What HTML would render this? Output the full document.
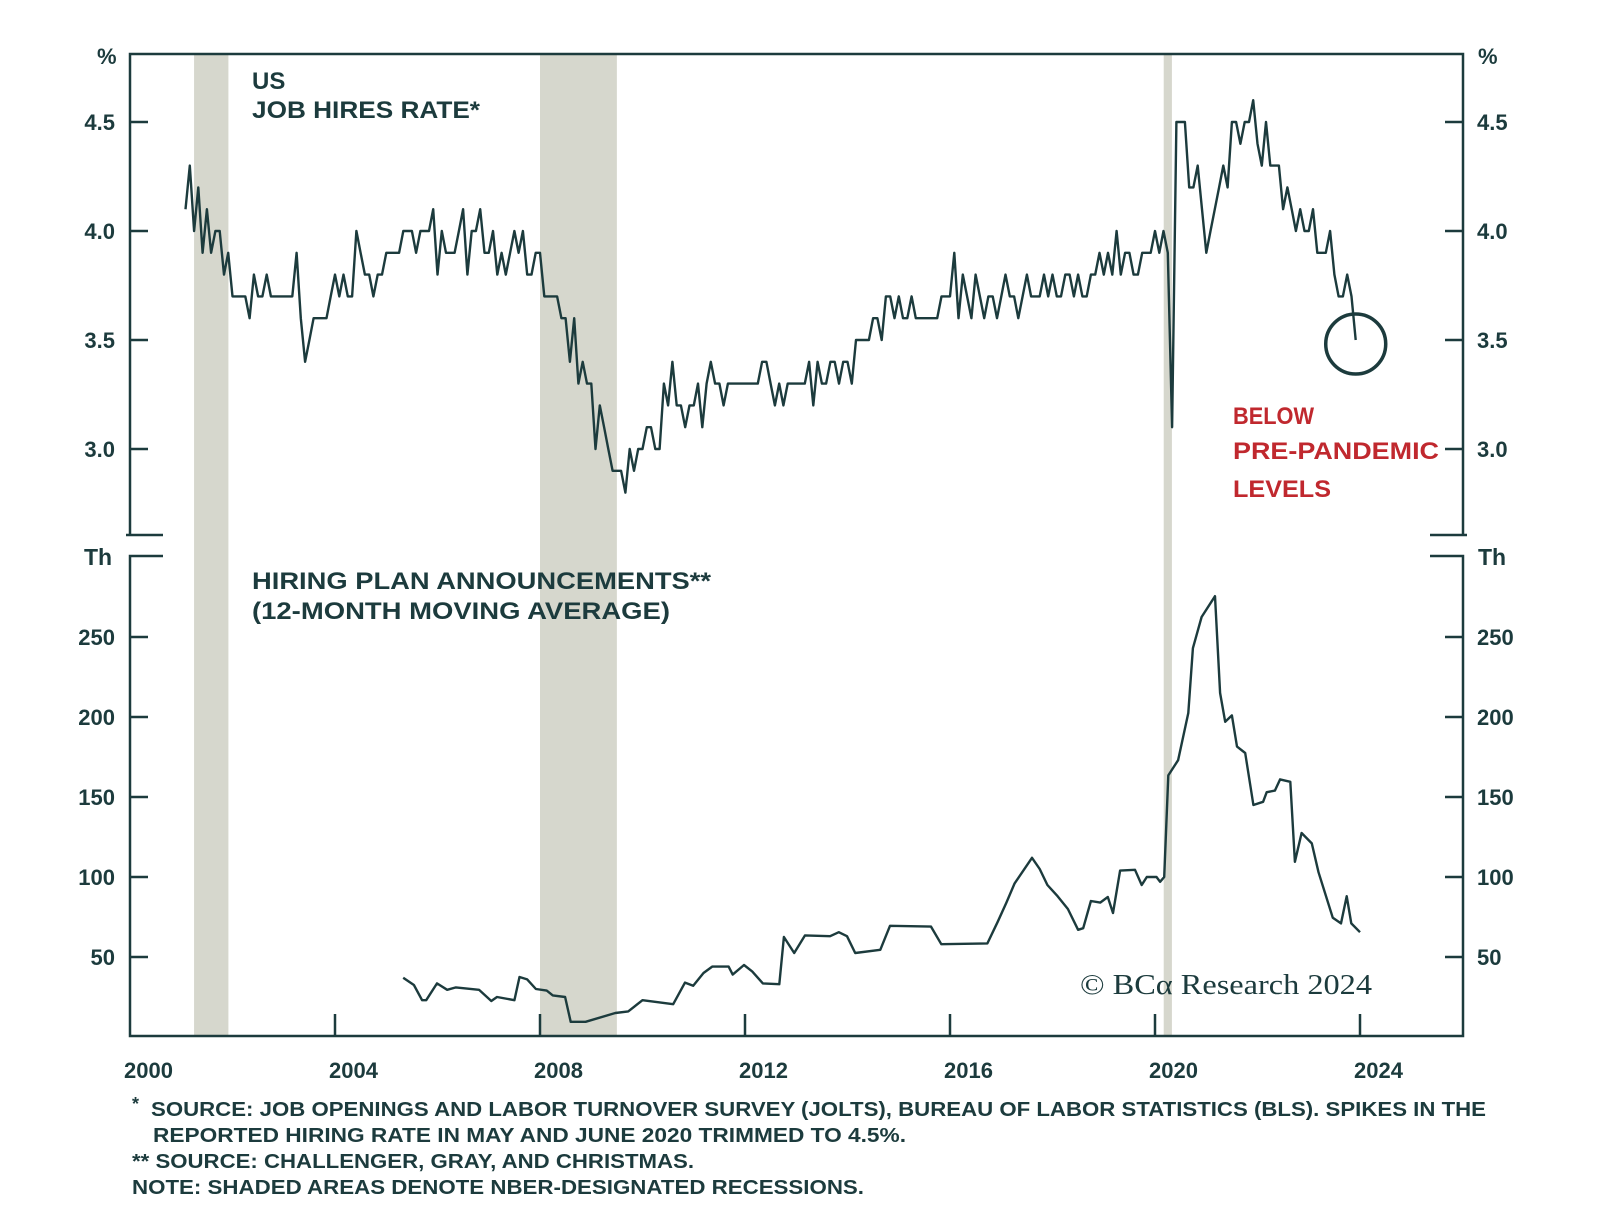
<!DOCTYPE html>
<html><head><meta charset="utf-8"><style>
html,body{margin:0;padding:0;background:#fff}
svg{display:block}
text{font-family:"Liberation Sans",sans-serif;fill:#1c3b3d;font-weight:700}
</style></head><body>
<svg id="chart" width="1600" height="1228" viewBox="0 0 1600 1228" xmlns="http://www.w3.org/2000/svg"></svg>
<script>
// ---- data ----
const hiresStartYear = 2001;
const hiresRate = [
4.1,4.3,4.0,4.2,3.9,4.1,3.9,4.0,4.0,3.8,3.9,3.7,
3.7,3.7,3.7,3.6,3.8,3.7,3.7,3.8,3.7,3.7,3.7,3.7,
3.7,3.7,3.9,3.6,3.4,3.5,3.6,3.6,3.6,3.6,3.7,3.8,
3.7,3.8,3.7,3.7,4.0,3.9,3.8,3.8,3.7,3.8,3.8,3.9,
3.9,3.9,3.9,4.0,4.0,4.0,3.9,4.0,4.0,4.0,4.1,3.8,
4.0,3.9,3.9,3.9,4.0,4.1,3.8,4.0,4.0,4.1,3.9,3.9,
4.0,3.8,3.9,3.8,3.9,4.0,3.9,4.0,3.8,3.8,3.9,3.9,
3.7,3.7,3.7,3.7,3.6,3.6,3.4,3.6,3.3,3.4,3.3,3.3,
3.0,3.2,3.1,3.0,2.9,2.9,2.9,2.8,3.0,2.9,3.0,3.0,
3.1,3.1,3.0,3.0,3.3,3.2,3.4,3.2,3.2,3.1,3.2,3.2,
3.3,3.1,3.3,3.4,3.3,3.3,3.2,3.3,3.3,3.3,3.3,3.3,
3.3,3.3,3.3,3.4,3.4,3.3,3.2,3.3,3.2,3.3,3.3,3.3,
3.3,3.3,3.4,3.2,3.4,3.3,3.3,3.4,3.4,3.3,3.4,3.4,
3.3,3.5,3.5,3.5,3.5,3.6,3.6,3.5,3.7,3.7,3.6,3.7,
3.6,3.6,3.7,3.6,3.6,3.6,3.6,3.6,3.6,3.7,3.7,3.7,
3.9,3.6,3.8,3.7,3.6,3.8,3.7,3.6,3.7,3.7,3.6,3.7,
3.8,3.7,3.7,3.6,3.7,3.8,3.7,3.7,3.7,3.8,3.7,3.8,
3.7,3.7,3.8,3.8,3.7,3.8,3.7,3.7,3.8,3.8,3.9,3.8,
3.9,3.8,4.0,3.8,3.9,3.9,3.8,3.8,3.9,3.9,3.9,4.0,
3.9,4.0,3.9,3.1,4.5,4.5,4.5,4.2,4.2,4.3,4.1,3.9,
4.0,4.1,4.2,4.3,4.2,4.5,4.5,4.4,4.5,4.5,4.6,4.4,
4.3,4.5,4.3,4.3,4.3,4.1,4.2,4.1,4.0,4.1,4.0,4.0,
4.1,3.9,3.9,3.9,4.0,3.8,3.7,3.7,3.8,3.7,3.5];
const plansYears = [2005.33,2005.54,2005.7,2005.78,2005.99,2006.19,2006.36,2006.81,2007.05,2007.16,2007.5,2007.6,2007.75,2007.92,2008.13,2008.25,2008.49,2008.6,2008.89,2009.47,2009.72,2010.0,2010.6,2010.83,2010.99,2011.19,2011.36,2011.68,2011.76,2011.98,2012.14,2012.35,2012.67,2012.76,2012.96,2013.17,2013.66,2013.83,2013.99,2014.15,2014.64,2014.83,2015.63,2015.83,2016.73,2016.93,2017.1,2017.26,2017.6,2017.75,2017.9,2018.1,2018.3,2018.5,2018.6,2018.75,2018.93,2019.08,2019.18,2019.32,2019.61,2019.74,2019.84,2020.03,2020.1,2020.18,2020.26,2020.45,2020.65,2020.74,2020.91,2021.17,2021.27,2021.37,2021.5,2021.6,2021.76,2021.92,2022.11,2022.18,2022.34,2022.44,2022.64,2022.73,2022.86,2023.06,2023.19,2023.47,2023.63,2023.74,2023.83,2024.0];
const plansValues = [37,32.5,23,23,33.5,29.5,31,29.5,22.5,25,23,37.5,36,30,29,26,25,9.5,9.5,15,16,23,20.5,34,32,40,44,44,39,45,41,33.5,33,62.5,52.5,63.5,63,65.5,63,52.5,54.5,69.5,69,58,58.5,72,84,96,112,105,95,88,80,67,68,85,84,87.5,77.5,104,104.5,95,100,100,97,100,163.5,173,202.5,243,262.5,275.5,215,197,201,181.5,177.5,145,147,153,154,161,159.5,109.5,127.5,121,103,74.5,71,88,71,65.5];
const recessionStarts = [2001.25, 2008.0, 2020.17];
const recessionEnds = [2001.92, 2009.5, 2020.33];
const topTicks = [4.5, 4.0, 3.5, 3.0];
const topTickLabels = ["4.5","4.0","3.5","3.0"];
const botTicks = [250, 200, 150, 100, 50];
const botTickLabels = ["250","200","150","100","50"];
const yearTicks = [2000, 2004, 2008, 2012, 2016, 2020, 2024];

// ---- scales ----
const L = 130, R = 1463, TOP = 54, TB = 535, BT = 556, BOT = 1036;
const X = y => L + (y - 2000) * 51.25;
const YT = v => 122 + (4.5 - v) * 218;
const YB = v => 637 + (250 - v) * 1.6;
const INK = '#1c3b3d';
const svg = document.getElementById('chart');
const NS = 'http://www.w3.org/2000/svg';
function mk(tag, attrs, parent) {
  const e = document.createElementNS(NS, tag);
  for (const k in attrs) e.setAttribute(k, attrs[k]);
  (parent || svg).appendChild(e);
  return e;
}
function txt(s, x, y, size, anchor, extra) {
  const t = mk('text', Object.assign({x: x, y: y, 'font-size': size, 'text-anchor': anchor || 'start'}, extra || {}));
  t.textContent = s;
  return t;
}

recessionStarts.forEach((s, i) => {
  const r = mk('rect', {x: X(s), y: TOP, width: X(recessionEnds[i]) - X(s), height: BOT - TOP, fill: '#d6d7cd'});
  
  
});

const fr = {stroke: INK, 'stroke-width': 2.5, fill: 'none'};
let f;
f = mk('path', Object.assign({d: `M${L-4},${TB} H${L+33} M${L},${TB} V${TOP} H${R} V${TB} M${R+4},${TB} H${R-33}`}, fr));


f = mk('path', Object.assign({d: `M${L+33},${BT} H${L} V${BOT} H${R} V${BT} H${R-33}`}, fr));



topTicks.forEach((v, i) => {
  mk('path', Object.assign({d: `M${L},${YT(v)} H${L+18} M${R},${YT(v)} H${R-18}`}, fr));
  const a = txt(topTickLabels[i], 115, YT(v) + 8, 22, 'end');
  
  
  const b = txt(topTickLabels[i], 1477, YT(v) + 8, 22, 'start');
  
  
});
botTicks.forEach((v, i) => {
  mk('path', Object.assign({d: `M${L},${YB(v)} H${L+18} M${R},${YB(v)} H${R-18}`}, fr));
  const a = txt(botTickLabels[i], 115, YB(v) + 8, 22, 'end');
  
  
  const b = txt(botTickLabels[i], 1477, YB(v) + 8, 22, 'start');
  
  
});
yearTicks.forEach(y => {
  if (y > 2000) mk('path', Object.assign({d: `M${X(y)},${BOT} V${BOT-22}`}, fr));
  const t = txt(String(y), X(y) - 6, 1078, 22, 'start');
  
  
});

const hp = hiresRate.map((v, i) => `${i ? 'L' : 'M'}${X(hiresStartYear + (i + 1) / 12).toFixed(1)},${YT(v).toFixed(1)}`).join(' ');
const l1 = mk('path', {d: hp, stroke: INK, 'stroke-width': 2.4, fill: 'none', 'stroke-linejoin': 'round'});


const pp = plansValues.map((v, i) => `${i ? 'L' : 'M'}${X(plansYears[i]).toFixed(1)},${YB(v).toFixed(1)}`).join(' ');
const l2 = mk('path', {d: pp, stroke: INK, 'stroke-width': 2.4, fill: 'none', 'stroke-linejoin': 'round'});



const c = mk('circle', {cx: X(hiresStartYear + hiresRate.length / 12), cy: 344, r: 30, stroke: INK, 'stroke-width': 3.5, fill: 'none'});


</script>
<script>
(function(){
const s = document.getElementById('chart');
const NS = 'http://www.w3.org/2000/svg';
function T(str, x, y, size, attrs) {
  const t = document.createElementNS(NS, 'text');
  t.setAttribute('x', x); t.setAttribute('y', y); t.setAttribute('font-size', size);
  for (const k in (attrs || {})) t.setAttribute(k, attrs[k]);
  t.textContent = str; s.appendChild(t); return t;
}
let t;
t = T('%', 97, 64, 22);  
t = T('%', 1478, 64, 22);  
t = T('Th', 84, 565, 23);  
t = T('Th', 1478, 565, 23);  
t = T('US', 252, 89, 24);  
t = T('JOB HIRES RATE*', 252, 118, 24, {textLength: 228, lengthAdjust: 'spacingAndGlyphs'});  
t = T('HIRING PLAN ANNOUNCEMENTS**', 252, 589, 24, {textLength: 459, lengthAdjust: 'spacingAndGlyphs'});  
t = T('(12-MONTH MOVING AVERAGE)', 252, 619, 24, {textLength: 418, lengthAdjust: 'spacingAndGlyphs'});  
const red = {fill: '#c0282e', style: 'fill:#c0282e'};
t = T('BELOW', 1233, 424, 24, Object.assign({textLength: 81, lengthAdjust: 'spacingAndGlyphs'}, red));  
t = T('PRE-PANDEMIC', 1233, 459, 24, Object.assign({textLength: 206, lengthAdjust: 'spacingAndGlyphs'}, red));  
t = T('LEVELS', 1233, 497, 24, Object.assign({textLength: 98, lengthAdjust: 'spacingAndGlyphs'}, red));  
t = T('© BCα Research 2024', 1080, 994, 28, {style: 'font-family:"Liberation Serif",serif;font-weight:400', textLength: 292, lengthAdjust: 'spacingAndGlyphs'});  
const fn = {lengthAdjust: 'spacingAndGlyphs'};
t = T('*', 132, 1110, 18, fn);  
t = T('SOURCE: JOB OPENINGS AND LABOR TURNOVER SURVEY (JOLTS), BUREAU OF LABOR STATISTICS (BLS). SPIKES IN THE', 151, 1116, 20, Object.assign({textLength: 1335}, fn));  
t = T('REPORTED HIRING RATE IN MAY AND JUNE 2020 TRIMMED TO 4.5%.', 153, 1142, 20, Object.assign({textLength: 753}, fn));  
t = T('** SOURCE: CHALLENGER, GRAY, AND CHRISTMAS.', 132, 1168, 20, Object.assign({textLength: 562}, fn));  
t = T('NOTE: SHADED AREAS DENOTE NBER-DESIGNATED RECESSIONS.', 132, 1194, 20, Object.assign({textLength: 732}, fn));  
})();
</script>
</body></html>
